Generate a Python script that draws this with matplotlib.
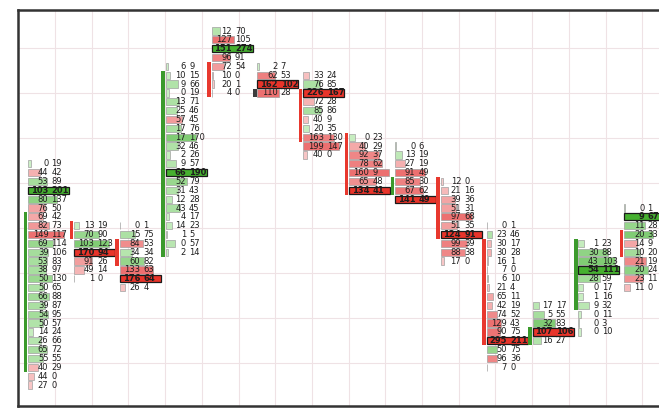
import matplotlib
matplotlib.use('Agg')
import matplotlib.pyplot as plt
import numpy as np

# footprint columns: price level of the top row, then bid / ask volumes from top to bottom
top_levels = [25, 18, 18, 36, 40, 36, 35, 28, 27, 23, 18, 9, 16, 20]

bids = [
    [0, 44, 53, 103, 80, 76, 69, 82, 149, 69, 39, 53, 38, 50, 50, 66, 39, 54, 50, 14, 26, 65, 55, 40, 44, 27],
    [13, 70, 103, 170, 91, 49, 1],
    [0, 15, 84, 34, 60, 133, 176, 26],
    [6, 10, 9, 0, 13, 25, 57, 17, 17, 32, 2, 9, 66, 52, 31, 12, 43, 4, 14, 1, 0, 2],
    [12, 127, 151, 96, 72, 10, 20, 4],
    [2, 62, 162, 110],
    [33, 76, 226, 72, 85, 40, 20, 163, 199, 40],
    [0, 40, 92, 78, 160, 65, 134],
    [0, 13, 27, 91, 85, 67, 141],
    [12, 21, 39, 51, 97, 51, 124, 99, 88, 17],
    [0, 23, 30, 30, 16, 7, 6, 21, 65, 42, 74, 129, 90, 295, 50, 96, 7],
    [17, 5, 32, 107, 16],
    [1, 30, 43, 54, 28, 0, 1, 9, 0, 0, 0],
    [0, 9, 11, 20, 14, 10, 21, 20, 23, 11],
]
asks = [
    [19, 42, 89, 201, 137, 50, 42, 73, 117, 114, 106, 83, 97, 130, 65, 88, 87, 95, 57, 24, 66, 72, 55, 29, 0, 0],
    [19, 90, 123, 94, 26, 14, 0],
    [1, 75, 53, 34, 82, 63, 64, 4],
    [9, 15, 66, 19, 71, 46, 45, 76, 170, 46, 26, 57, 190, 79, 43, 28, 45, 17, 23, 5, 57, 14],
    [70, 105, 274, 91, 54, 0, 1, 0],
    [7, 53, 102, 28],
    [24, 85, 167, 28, 86, 9, 35, 130, 147, 0],
    [23, 29, 37, 62, 9, 48, 41],
    [6, 19, 19, 49, 30, 62, 49],
    [0, 16, 36, 31, 68, 35, 91, 39, 38, 0],
    [1, 46, 17, 28, 1, 0, 10, 4, 11, 19, 52, 43, 75, 211, 75, 36, 0],
    [17, 55, 83, 106, 27],
    [23, 88, 103, 111, 59, 17, 16, 32, 11, 3, 10],
    [1, 67, 28, 33, 9, 20, 19, 24, 11, 0],
]

# candle bodies (price levels) and direction
body_top = [19, 18, 16, 35, 36, 33, 33, 28, 23, 23, 16, 6, 16, 17]
body_bottom = [2, 17, 14, 15, 33, 33, 28, 22, 22, 17, 5, 5, 9, 15]
body_dir = ['up', 'down', 'down', 'up', 'down', 'flat', 'down', 'down', 'up', 'down', 'down', 'up', 'up', 'down']

# ---- layout (pixel based) ----
W, H = 659, 408
px_l, px_r, px_t, px_b = 17.5, 672, 10, 405.5
col_px, row_px = 45.85, 8.85
x0_px, y0_px = 25.5, 385

fig = plt.figure(figsize=(W / 100, H / 100), dpi=100)
ax = fig.add_axes([px_l / W, 1 - px_b / H, (px_r - px_l) / W, (px_b - px_t) / H])
ax.set_xlim((px_l - x0_px) / col_px, (px_r - x0_px) / col_px)
ax.set_ylim((y0_px - px_b) / row_px, (y0_px - px_t) / row_px)

ax.set_xticks(np.arange((55 - x0_px) / col_px, 14.2, 36.7 / col_px))
ax.set_yticks(np.arange((y0_px - 363) / row_px, 43, 45 / row_px))
ax.grid(True, color='#efe2e5', lw=0.8)
ax.set_axisbelow(True)
ax.tick_params(length=0, labelbottom=False, labelleft=False)
for s in ax.spines.values():
    s.set_color('#333333')
    s.set_linewidth(1.8)

full_w = 41 / col_px
box_off = 2.7 / col_px
box_h = 0.82
bid_x = 23 / col_px
ask_x = 26 / col_px

green_lo, green_hi = np.array([210, 242, 204]) / 255, np.array([128, 204, 116]) / 255
red_lo, red_hi = np.array([249, 208, 208]) / 255, np.array([236, 112, 112]) / 255
body_colors = {'up': '#3b9a2c', 'down': '#e8382e', 'flat': '#3c3c3c'}

for i in range(len(top_levels)):
    b = np.array(bids[i])
    a = np.array(asks[i])
    levels = top_levels[i] - np.arange(len(b))
    tot = b + a
    poc = int(np.argmax(tot))
    rest_max = max(np.delete(tot, poc).max(), 1)

    # candle body
    ax.bar(i, body_top[i] - body_bottom[i] + 1, bottom=body_bottom[i] - 0.5, width=3.6 / col_px,
           color=body_colors[body_dir[i]], zorder=3)

    for k in range(len(b)):
        lv = levels[k]
        if k == poc:
            fc = '#e8342a' if b[k] > a[k] else '#46b030'
            ax.barh(lv, full_w, left=i + box_off, height=box_h, color=fc,
                    edgecolor='#1a1a1a', lw=0.9, zorder=2)
            weight = 'bold'
        else:
            t = min(tot[k] / rest_max, 1.0)
            if a[k] >= b[k]:
                fc = green_lo + (green_hi - green_lo) * t
            else:
                fc = red_lo + (red_hi - red_lo) * t
            w = full_w * tot[k] / tot[poc]
            ax.barh(lv, w, left=i + box_off, height=box_h, color=fc,
                    edgecolor='#a0a0a0', lw=0.5, zorder=2)
            weight = 'normal'
        ax.text(i + bid_x, lv, str(b[k]), ha='right', va='center', fontsize=6,
                color='#1e1e1e', fontweight=weight, zorder=4)
        ax.text(i + ask_x, lv, str(a[k]), ha='left', va='center', fontsize=6,
                color='#1e1e1e', fontweight=weight, zorder=4)

fig.savefig('out.png', dpi=100)
